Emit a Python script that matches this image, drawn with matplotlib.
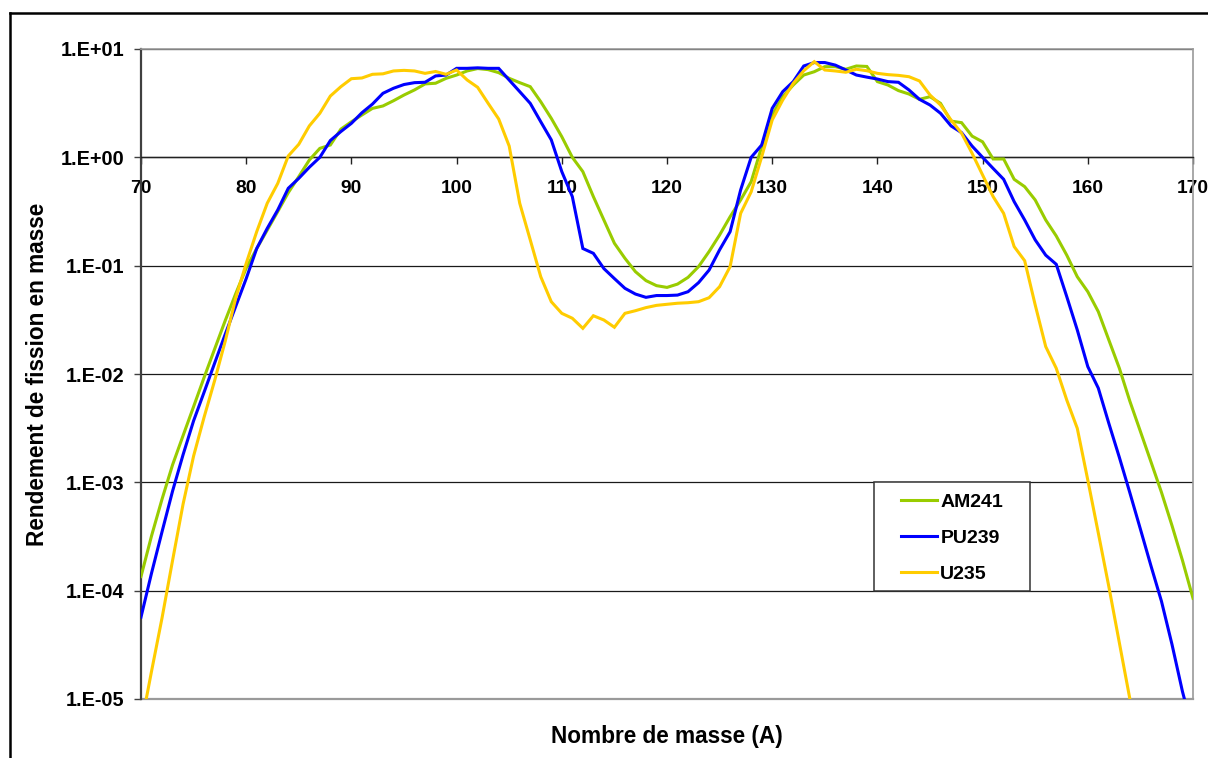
import matplotlib
matplotlib.use("Agg")
import matplotlib.pyplot as plt
from matplotlib.lines import Line2D
from matplotlib.patches import Rectangle
import numpy as np

plt.rcParams['font.family'] = ['Liberation Sans', 'DejaVu Sans']
plt.rcParams['font.weight'] = 'bold'

mass_numbers = list(range(70, 171))

am241 = [1.35e-4, 3.2e-4, 7.0e-4, 1.45e-3, 2.7e-3, 5.0e-3, 9.3e-3, 0.017, 0.031, 0.055,
         0.095, 0.144, 0.213, 0.316, 0.472, 0.664, 0.944, 1.21, 1.30, 1.82,
         2.13, 2.46, 2.83, 2.98, 3.33, 3.76, 4.19, 4.76, 4.83, 5.36,
         5.75, 6.27, 6.60, 6.45, 6.05, 5.36, 4.89, 4.49, 3.26, 2.29,
         1.55, 1.00, 0.738, 0.434, 0.264, 0.161, 0.117, 0.088, 0.0728, 0.0654,
         0.063, 0.0676, 0.078, 0.098, 0.135, 0.192, 0.283, 0.404, 0.596, 1.25,
         2.46, 3.63, 4.65, 5.75, 6.17, 6.87, 6.87, 6.50, 6.97, 6.90,
         5.00, 4.65, 4.13, 3.84, 3.43, 3.63, 3.15, 2.16, 2.09, 1.57,
         1.39, 0.966, 0.966, 0.627, 0.536, 0.404, 0.264, 0.188, 0.125, 0.079,
         0.0575, 0.0376, 0.0206, 0.0113, 5.6e-3, 2.95e-3, 1.55e-3, 8.1e-4, 4.0e-4, 1.9e-4,
         8.5e-5]

pu239 = [5.7e-5, 1.45e-4, 3.5e-4, 8.3e-4, 1.8e-3, 3.7e-3, 6.8e-3, 0.0126, 0.0232, 0.042,
         0.076, 0.144, 0.221, 0.327, 0.518, 0.64, 0.81, 1.0, 1.43, 1.73,
         2.06, 2.58, 3.10, 3.90, 4.34, 4.70, 4.89, 4.93, 5.64, 5.75,
         6.63, 6.63, 6.70, 6.63, 6.63, 5.17, 4.04, 3.15, 2.13, 1.45,
         0.738, 0.434, 0.144, 0.130, 0.094, 0.076, 0.0618, 0.0547, 0.051, 0.053,
         0.053, 0.0535, 0.0575, 0.0697, 0.091, 0.140, 0.206, 0.50, 1.0, 1.30,
         2.83, 4.04, 5.00, 6.97, 7.50, 7.50, 7.10, 6.40, 5.75, 5.50,
         5.28, 5.00, 4.93, 4.19, 3.43, 3.04, 2.55, 1.95, 1.69, 1.27,
         1.00, 0.79, 0.627, 0.39, 0.264, 0.173, 0.125, 0.103, 0.0518, 0.0255,
         0.0117, 7.4e-3, 3.5e-3, 1.7e-3, 8.0e-4, 3.7e-4, 1.7e-4, 8.0e-5, 3.2e-5, 1.17e-5,
         5.0e-6]

u235 = [5.6e-6, 1.8e-5, 5.6e-5, 1.9e-4, 6.3e-4, 1.75e-3, 4.0e-3, 8.7e-3, 0.020, 0.050,
        0.105, 0.206, 0.377, 0.575, 1.03, 1.32, 1.95, 2.55, 3.68, 4.49,
        5.32, 5.40, 5.84, 5.90, 6.27, 6.35, 6.27, 5.96, 6.20, 5.84,
        6.40, 5.18, 4.43, 3.15, 2.26, 1.27, 0.377, 0.173, 0.079, 0.0465,
        0.0363, 0.0327, 0.0264, 0.0345, 0.0315, 0.027, 0.0363, 0.0384, 0.041, 0.043,
        0.044, 0.045, 0.0455, 0.0465, 0.0506, 0.064, 0.098, 0.304, 0.48, 1.01,
        2.21, 3.38, 4.82, 6.30, 7.64, 6.40, 6.27, 6.10, 6.50, 6.30,
        5.96, 5.80, 5.71, 5.55, 5.07, 3.76, 3.04, 2.21, 1.67, 1.09,
        0.687, 0.434, 0.304, 0.150, 0.111, 0.0434, 0.0179, 0.0113, 5.75e-3, 3.15e-3,
        1.05e-3, 3.4e-4, 1.09e-4, 3.3e-5, 1.0e-5, 3.0e-6]

series_names = ['AM241', 'PU239', 'U235']
series_colors = ['#99CC00', '#0000FF', '#FFCC00']
x_ticks = list(range(70, 171, 10))
y_ticks = [1e-5, 1e-4, 1e-3, 1e-2, 1e-1, 1e0, 1e1]
y_tick_labels = ['1.E-05', '1.E-04', '1.E-03', '1.E-02', '1.E-01', '1.E+00', '1.E+01']

W, H = 1208, 758
fig = plt.figure(figsize=(W / 100, H / 100), dpi=100)
ax = fig.add_axes([141 / W, 1 - 699 / H, (1193 - 141) / W, (699 - 49) / H])

for name, vals, col in zip(series_names, [am241, pu239, u235], series_colors):
    ax.plot(mass_numbers[:len(vals)], vals, color=col, lw=2.2, label=name,
            solid_joinstyle='miter', zorder=3)

ax.set_yscale('log')
ax.set_xlim(70, 170)
ax.set_ylim(1e-5, 1e1)
ax.set_yticks(y_ticks)
ax.set_yticklabels(y_tick_labels)
ax.yaxis.set_minor_locator(matplotlib.ticker.NullLocator())
ax.set_xticks(x_ticks)
ax.set_xticklabels([str(t) for t in x_ticks])

ax.yaxis.grid(True, color='#1a1a1a', lw=0.9, zorder=1)
ax.set_axisbelow(True)

ax.spines['bottom'].set_position(('data', 1.0))
ax.spines['bottom'].set_color('#222222')
ax.spines['bottom'].set_linewidth(1.0)
ax.spines['left'].set_color('#404040')
ax.spines['left'].set_linewidth(1.6)
ax.spines['top'].set_color('#9a9a9a')
ax.spines['top'].set_linewidth(1.2)
ax.spines['right'].set_color('#9a9a9a')
ax.spines['right'].set_linewidth(1.2)

ax.tick_params(axis='x', direction='out', length=5, width=1, color='#222222',
               labelsize=13.8, pad=11)
ax.tick_params(axis='y', direction='out', length=5, width=1, color='#404040',
               labelsize=14.3, pad=7)
for lab in ax.get_xticklabels() + ax.get_yticklabels():
    lab.set_fontweight('bold')

# bottom frame line at 1e-5
ax.axhline(1e-5, color='#9a9a9a', lw=1.6, zorder=2, clip_on=False)

fig.text(667 / W, 1 - 737 / H, 'Nombre de masse (A)', ha='center', va='center',
         fontsize=16.3, fontweight='bold')
fig.text(38 / W, 1 - 374 / H, 'Rendement de fission en masse', ha='center', va='center',
         rotation=90, fontsize=16.3, fontweight='bold')

# legend
leg = ax.legend(loc='upper left', bbox_to_anchor=((901 - 141) / 1052, (699 - 493) / 650),
                frameon=False, fontsize=14, handlelength=1.85, handletextpad=0.17,
                labelspacing=0.96, borderpad=0, borderaxespad=0)
for t in leg.get_texts():
    t.set_fontweight('bold')
for h in leg.get_lines():
    h.set_linewidth(2.2)
ax.add_patch(Rectangle(((874 - 141) / 1052, (699 - 591) / 650), 156 / 1052, 109 / 650,
                       transform=ax.transAxes, fill=True, facecolor='white',
                       edgecolor='#333333', lw=1.1, zorder=4))
leg.set_zorder(5)

# figure border
fig.add_artist(Line2D([10 / W, 10 / W], [0, 1 - 13 / H], color='black', lw=1.8,
                      transform=fig.transFigure))
fig.add_artist(Line2D([10 / W, 1], [1 - 13 / H, 1 - 13 / H], color='black', lw=1.8,
                      transform=fig.transFigure))

fig.savefig('out.png', dpi=100)
